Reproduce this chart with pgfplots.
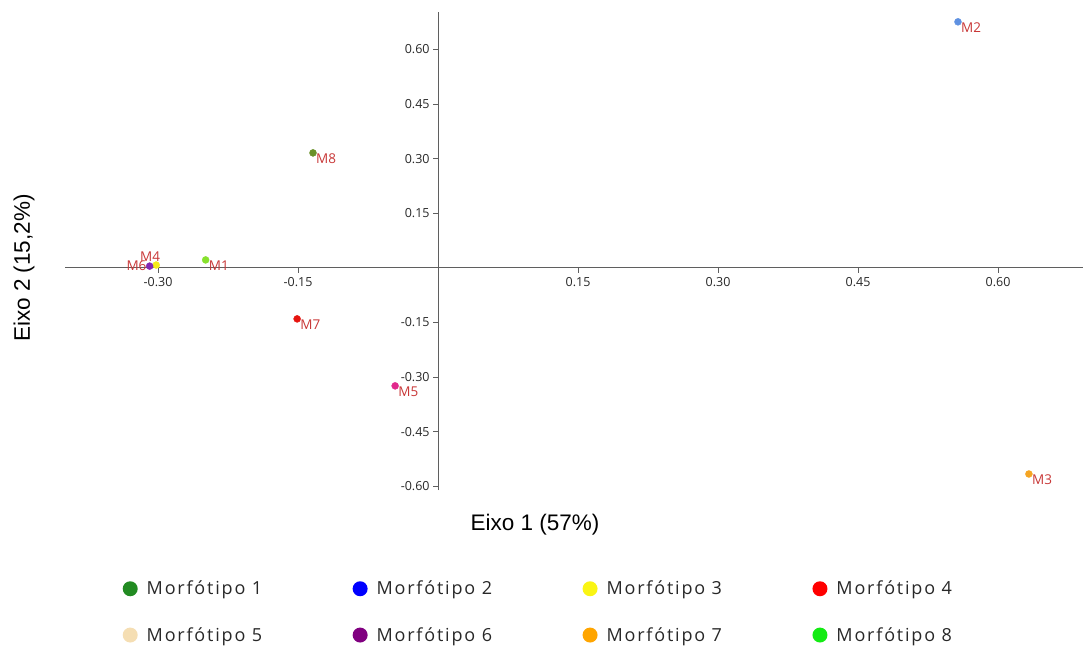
\documentclass[border=0pt]{standalone}
\usepackage{fontspec}
\setmainfont{Open Sans}
\newfontfamily\arialf{Liberation Sans}
\newfontfamily\legf[LetterSpace=10]{Open Sans}
\usepackage{pgfplots}
\pgfplotsset{compat=1.18}
\definecolor{axgray}{RGB}{95,95,95}
\definecolor{ticktext}{RGB}{40,40,40}
\definecolor{labred}{RGB}{200,55,55}
\definecolor{cM1}{RGB}{135,225,45}
\definecolor{cM2}{RGB}{95,145,225}
\definecolor{cM3}{RGB}{245,165,35}
\definecolor{cM4}{RGB}{245,235,25}
\definecolor{cM5}{RGB}{225,40,140}
\definecolor{cM6}{RGB}{130,40,180}
\definecolor{cM7}{RGB}{230,20,15}
\definecolor{cM8}{RGB}{105,145,40}
\definecolor{lg1}{RGB}{34,139,34}
\definecolor{lg2}{RGB}{0,0,255}
\definecolor{lg3}{RGB}{250,245,20}
\definecolor{lg4}{RGB}{255,0,0}
\definecolor{lg5}{RGB}{245,222,179}
\definecolor{lg6}{RGB}{128,0,128}
\definecolor{lg7}{RGB}{255,165,0}
\definecolor{lg8}{RGB}{20,235,20}
\tikzset{lab/.style={font=\fontsize{13.5}{15}\selectfont, text=labred, inner sep=0pt}}
\pgfplotsset{legimg/.style={draw=none, legend image code/.code={\path[fill, draw=none] (7.5pt,0pt) circle (7.5pt);}}}
\begin{document}
\begin{tikzpicture}
\useasboundingbox (0,0) rectangle (1083pt,645pt);
\begin{axis}[
  at={(65pt,155pt)}, anchor=south west,
  scale only axis, width=1018pt, height=478pt,
  xmin=-0.3997, xmax=0.691, ymin=-0.61, ymax=0.703,
  axis lines=middle,
  axis line style={-, draw=axgray, line width=1pt},
  tick align=outside, major tick length=5pt,
  tick style={draw=axgray, line width=0.8pt},
  xtick={-0.30,-0.15,0.15,0.30,0.45,0.60},
  ytick={-0.60,-0.45,-0.30,-0.15,0.15,0.30,0.45,0.60},
  xticklabels={-0.30,-0.15,0.15,0.30,0.45,0.60},
  yticklabels={-0.60,-0.45,-0.30,-0.15,0.15,0.30,0.45,0.60},
  tick label style={font=\fontsize{12.5}{14}\selectfont, text=ticktext},
  xticklabel style={yshift=-1pt},
  every axis x label/.style={at={(rel axis cs:0.4617,-0.0715)}, anchor=center},
  every axis y label/.style={at={(rel axis cs:-0.0403,0.4644)}, anchor=center, rotate=90},
  xlabel={Eixo 1 (57\%)},
  ylabel={Eixo 2 (15,2\%)},
  label style={font=\arialf\fontsize{22.5}{25}\selectfont, text=black},
  legend columns=4,
  legend cell align=left,
  legend style={at={(rel axis cs:0.0565,-0.186)}, anchor=north west,
    draw=none, fill=none, inner sep=0pt,
    font=\legf\fontsize{18}{20}\selectfont, text=ticktext,
    nodes={inner xsep=9pt},
    /tikz/every even column/.append style={column sep=81.5pt},
    /tikz/row sep=27pt},
]
\addplot[forget plot, only marks, mark=*, mark size=3.5pt, color=cM2] coordinates {(0.557,0.676)};
\addplot[forget plot, only marks, mark=*, mark size=3.5pt, color=cM3] coordinates {(0.633,-0.566)};
\addplot[forget plot, only marks, mark=*, mark size=3.5pt, color=cM8] coordinates {(-0.134,0.316)};
\addplot[forget plot, only marks, mark=*, mark size=3.5pt, color=cM7] coordinates {(-0.151,-0.140)};
\addplot[forget plot, only marks, mark=*, mark size=3.5pt, color=cM5] coordinates {(-0.046,-0.324)};
\addplot[forget plot, only marks, mark=*, mark size=3.5pt, color=cM1] coordinates {(-0.249,0.022)};
\addplot[forget plot, only marks, mark=*, mark size=3.5pt, color=cM4] coordinates {(-0.302,0.008)};
\addplot[forget plot, only marks, mark=*, mark size=3.5pt, color=cM6] coordinates {(-0.309,0.005)};
\node[lab, anchor=west, xshift=3pt, yshift=-6pt] at (axis cs:0.557,0.676) {M2};
\node[lab, anchor=west, xshift=3pt, yshift=-6pt] at (axis cs:0.633,-0.566) {M3};
\node[lab, anchor=west, xshift=3pt, yshift=-6pt] at (axis cs:-0.134,0.316) {M8};
\node[lab, anchor=west, xshift=3pt, yshift=-6pt] at (axis cs:-0.151,-0.140) {M7};
\node[lab, anchor=west, xshift=3pt, yshift=-6pt] at (axis cs:-0.046,-0.324) {M5};
\node[lab, anchor=west, xshift=3pt, yshift=-6pt] at (axis cs:-0.249,0.022) {M1};
\node[lab, anchor=center, xshift=-6pt, yshift=8pt] at (axis cs:-0.302,0.008) {M4};
\node[lab, anchor=east, xshift=-3pt, yshift=0pt] at (axis cs:-0.309,0.005) {M6};
\addlegendimage{legimg, fill=lg1}\addlegendentry{Morfótipo 1}
\addlegendimage{legimg, fill=lg2}\addlegendentry{Morfótipo 2}
\addlegendimage{legimg, fill=lg3}\addlegendentry{Morfótipo 3}
\addlegendimage{legimg, fill=lg4}\addlegendentry{Morfótipo 4}
\addlegendimage{legimg, fill=lg5}\addlegendentry{Morfótipo 5}
\addlegendimage{legimg, fill=lg6}\addlegendentry{Morfótipo 6}
\addlegendimage{legimg, fill=lg7}\addlegendentry{Morfótipo 7}
\addlegendimage{legimg, fill=lg8}\addlegendentry{Morfótipo 8}
\end{axis}
\end{tikzpicture}
\end{document}
